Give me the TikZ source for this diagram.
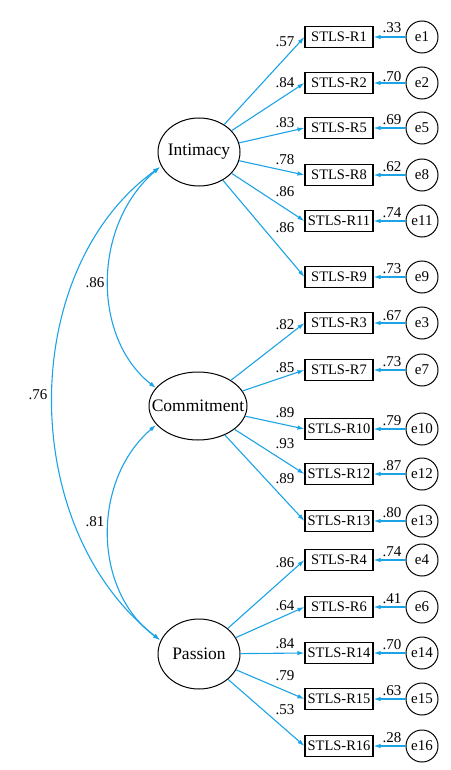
\documentclass[tikz,border=0pt]{standalone}
\usepackage{fontspec}
\setmainfont{Liberation Serif}
\usetikzlibrary{shapes.geometric,arrows.meta}
\definecolor{arrowblue}{HTML}{1BA3E6}
\tikzset{
  obsbox/.style={draw=black,line width=1.1pt,minimum width=68pt,minimum height=21pt,inner sep=0pt,font=\fontsize{14.5}{16}\selectfont},
  errcirc/.style={draw=black,line width=1pt,circle,minimum size=32pt,inner sep=0pt,font=\fontsize{15}{17}\selectfont},
  latent/.style={draw=black,line width=1pt,ellipse,inner sep=0pt},
  latlbl/.style={inner sep=0pt,font=\fontsize{17.5}{19}\selectfont},
  path/.style={draw=arrowblue,line width=1.1pt,-{Latex[length=7pt,width=4.5pt]}},
  cov/.style={draw=arrowblue,line width=1.1pt,{Latex[length=7pt,width=4.5pt]}-{Latex[length=7pt,width=4.5pt]}},
  lbl/.style={inner sep=0pt,font=\fontsize{15}{17}\selectfont}
}
\begin{document}
\begin{tikzpicture}[x=1pt,y=-1pt]
\useasboundingbox (0,0) rectangle (450,770);
% latent variables
\node[latent,minimum width=82pt,minimum height=68pt] (Int) at (199,152) {};
\node[latent,minimum width=98pt,minimum height=68pt] (Com) at (198,406) {};
\node[latent,minimum width=82pt,minimum height=70pt] (Pas) at (199,654) {};
\node[latlbl] (IntT) at (Int) {Intimacy};
\node[latlbl] (ComT) at (Com) {Commitment};
\node[latlbl] (PasT) at (Pas) {Passion};
% indicators
\foreach \nm/\yy in {R1/37, R2/83, R5/128, R8/175, R11/221, R9/277,
  R3/323, R7/370, R10/429, R12/474, R13/521, R4/560, R6/607, R14/653, R15/699, R16/746}{
  \node[obsbox] (\nm) at (339,\yy) {STLS-\nm};
}
% errors
\foreach \en/\nm/\yy in {e1/R1/37, e2/R2/83, e5/R5/128, e8/R8/175, e11/R11/221, e9/R9/277,
  e3/R3/323, e7/R7/370, e10/R10/429, e12/R12/474, e13/R13/521,
  e4/R4/560, e6/R6/607, e14/R14/653, e15/R15/699, e16/R16/746}{
  \node[errcirc] (\en) at (422,\yy) {\en};
  \draw[path] (\en) -- (\nm);
}
% error labels
\foreach \nm/\val/\yy in {R1/.33/28, R2/.70/77, R5/.69/120, R8/.62/167, R11/.74/213, R9/.73/269,
  R3/.67/316, R7/.73/362, R10/.79/421, R12/.87/466, R13/.80/513,
  R4/.74/552, R6/.41/599, R14/.70/645, R15/.63/691, R16/.28/738}{
  \node[lbl] (ev\nm) at (392,\yy) {\val};
}
% loadings
\foreach \lat/\nm/\val/\yy in {Int/R1/.57/42, Int/R2/.84/83, Int/R5/.83/123, Int/R8/.78/160, Int/R11/.86/192, Int/R9/.86/228,
  Com/R3/.82/325, Com/R7/.85/368, Com/R10/.89/413, Com/R12/.93/444, Com/R13/.89/479,
  Pas/R4/.86/563, Pas/R6/.64/606, Pas/R14/.84/644, Pas/R15/.79/676, Pas/R16/.53/710}{
  \draw[path] (\lat) -- (\nm.west);
  \node[lbl] (ld\nm) at (285,\yy) {\val};
}
% covariances
\coordinate (IntA) at (160,167);
\coordinate (ComA) at (156,388);
\coordinate (ComB) at (156,425);
\coordinate (PasA) at (160,640);
\draw[cov] (IntA) .. controls (92,225) and (92,338) .. (ComA);
\draw[cov] (ComB) .. controls (92,480) and (92,590) .. (PasA);
\draw[cov] (IntA) .. controls (17,270) and (17,528) .. (PasA);
\node[lbl] (c1) at (95,283) {.86};
\node[lbl] (c2) at (38,395) {.76};
\node[lbl] (c3) at (95,522) {.81};
\end{tikzpicture}
\end{document}
